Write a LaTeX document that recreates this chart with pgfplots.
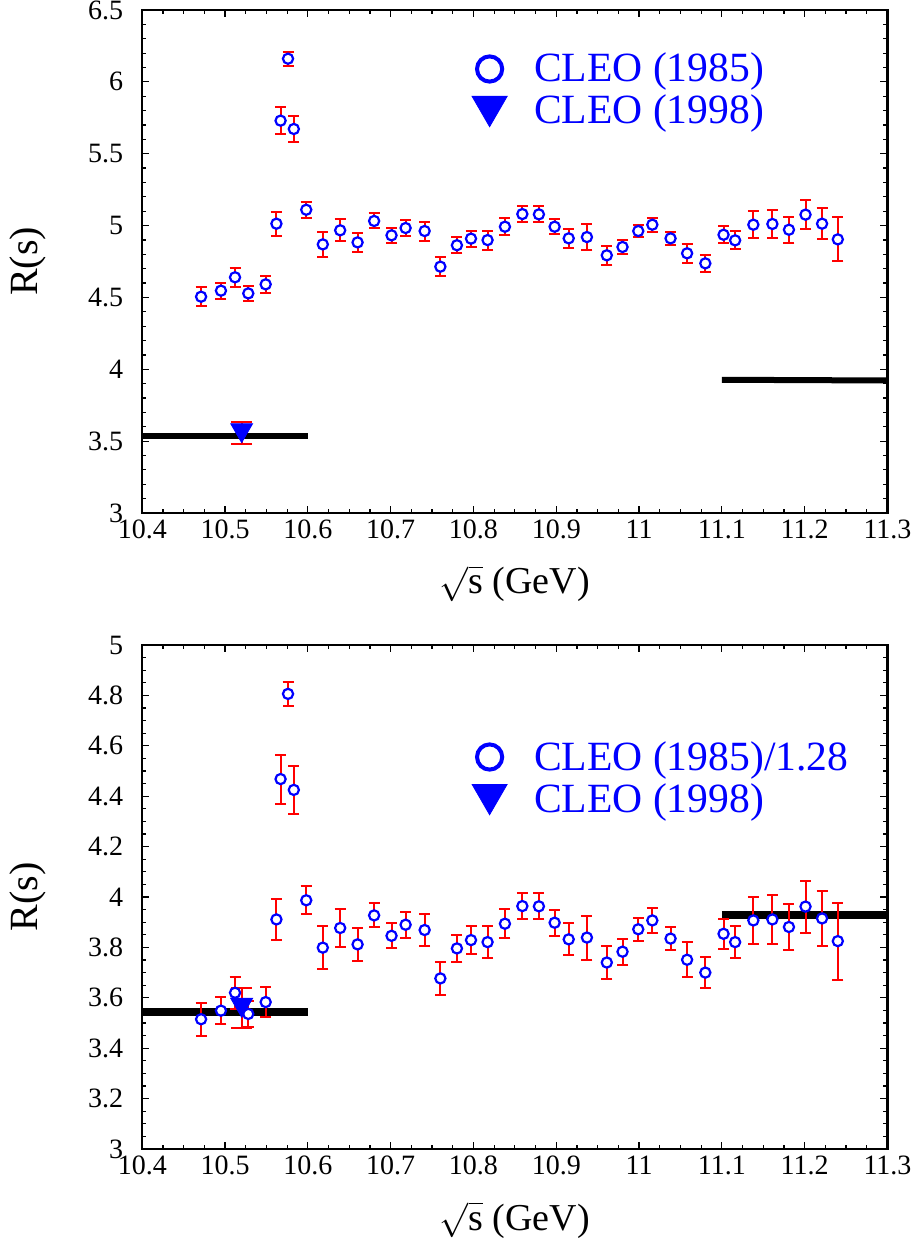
\documentclass[border=0pt]{standalone}
\usepackage{fontspec}
\setmainfont{Liberation Serif}
\usepackage{pgfplots}
\usepackage{pgfplotstable}
\pgfplotsset{compat=1.18}

% CLEO (1985) R values, raw
\pgfplotstableread{
E      R      dR
10.471 4.505 0.065
10.495 4.547 0.056
10.512 4.640 0.064
10.528 4.528 0.051
10.549 4.591 0.061
10.562 5.013 0.083
10.567 5.730 0.095
10.576 6.161 0.048
10.583 5.672 0.093
10.598 5.110 0.056
10.618 4.869 0.085
10.639 4.967 0.077
10.660 4.883 0.066
10.680 5.032 0.052
10.701 4.932 0.050
10.718 4.983 0.055
10.741 4.962 0.066
10.760 4.714 0.064
10.780 4.863 0.054
10.797 4.909 0.056
10.817 4.899 0.066
10.838 4.992 0.058
10.859 5.080 0.055
10.879 5.078 0.055
10.898 4.992 0.053
10.915 4.911 0.064
10.937 4.920 0.088
10.961 4.793 0.064
10.980 4.851 0.051
10.999 4.962 0.045
11.016 5.006 0.050
11.038 4.911 0.047
11.058 4.807 0.068
11.080 4.737 0.060
11.102 4.936 0.059
11.116 4.897 0.063
11.138 5.006 0.092
11.161 5.011 0.097
11.181 4.971 0.090
11.201 5.076 0.103
11.221 5.013 0.109
11.240 4.904 0.153
}\topdata

% CLEO (1985) divided by 1.28
\pgfplotstableread{
E      R      dR
10.471 3.515 0.066
10.495 3.549 0.054
10.512 3.620 0.063
10.528 3.536 0.052
10.549 3.583 0.061
10.562 3.911 0.083
10.567 4.468 0.097
10.576 4.806 0.048
10.583 4.425 0.095
10.598 3.987 0.055
10.618 3.799 0.086
10.639 3.877 0.077
10.660 3.812 0.065
10.680 3.927 0.048
10.701 3.846 0.050
10.718 3.890 0.052
10.741 3.869 0.065
10.760 3.677 0.064
10.780 3.796 0.054
10.797 3.829 0.056
10.817 3.821 0.064
10.838 3.894 0.058
10.859 3.964 0.053
10.879 3.963 0.052
10.898 3.898 0.052
10.915 3.832 0.064
10.937 3.839 0.087
10.961 3.740 0.064
10.980 3.783 0.052
10.999 3.872 0.046
11.016 3.907 0.050
11.038 3.835 0.046
11.058 3.751 0.069
11.080 3.700 0.061
11.102 3.854 0.060
11.116 3.821 0.063
11.138 3.907 0.092
11.161 3.911 0.097
11.181 3.881 0.091
11.201 3.962 0.103
11.221 3.915 0.108
11.240 3.825 0.153
}\botdata

\pgfplotsset{
  cleo/.style={
    scale only axis, width=372.6pt,
    xmin=10.4, xmax=11.3,
    xtick={10.4,10.5,10.6,10.7,10.8,10.9,11,11.1,11.2,11.3},
    minor x tick num=3,
    tick align=inside,
    major tick length=3.6pt, minor tick length=2pt,
    axis line style={line width=1.1pt},
    every tick/.append style={black, line width=0.6pt},
    tick label style={font=\fontsize{14}{16}\selectfont},
    /pgf/number format/assume math mode=true,
    yticklabel style={xshift=-6pt},
    xlabel={\smash{$\sqrt{\mbox{s}}$} (GeV)},
    ylabel={R(s)},
    xlabel style={font=\fontsize{19}{22}\selectfont,
      at={(axis description cs:0.5,-0.161)}, anchor=base},
    ylabel style={font=\fontsize{20}{22}\selectfont,
      at={(axis description cs:-0.1534,0.5)}, anchor=center},
    legend style={draw=none, fill=none, anchor=north west, inner sep=0pt, outer sep=0pt,
      column sep=13.5pt, row sep=0pt, text=blue,
      font=\fontsize{20.8}{21}\selectfont,
      nodes={inner sep=0pt, text height=15pt, text depth=6pt},
      cells={anchor=base west}},
    legend image code/.code={\draw[##1] plot coordinates {(0pt,6.5pt)};},
  },
  errbars/.style={only marks, mark=none, red, forget plot,
    error bars/.cd, y dir=both, y explicit,
    error bar style={red, line width=1pt},
    error mark options={rotate=90, red, line width=1pt, mark size=2.75pt}},
  pts/.style={only marks, mark=*, mark size=2.55pt, forget plot,
    mark options={draw=blue, fill=white, line width=1.1pt}},
  tri/.style={only marks, mark=triangle*, mark size=6.3pt, blue, forget plot,
    mark options={yshift=1.6pt, rotate=180}},
  trierr/.style={only marks, mark=none, red, forget plot,
    error bars/.cd, y dir=both, y explicit,
    error bar style={red, line width=1pt},
    error mark options={rotate=90, red, line width=1pt, mark size=5.25pt}},
  band/.style={black, line width=3pt, forget plot, no marks},
  legcirc/.style={only marks, mark=o, mark size=6.3pt, blue, mark options={line width=2pt}},
  legtri/.style={only marks, mark=triangle*, mark size=10.1pt, blue, mark options={yshift=2.25pt, rotate=180}},
}

\begin{document}
\begin{tikzpicture}
\path[use as bounding box] (-71.15pt,-366pt) rectangle (388.35pt,256.5pt);

\begin{axis}[cleo, at={(0pt,0pt)}, anchor=south west,
    height=251.5pt, ymin=3, ymax=6.5,
    ytick={3,3.5,4,4.5,5,5.5,6,6.5}, minor y tick num=4,
    legend style={at={(axis description cs:0.4426,0.9165)}}]
\addlegendimage{legcirc}
\addlegendentry{CLEO (1985)}
\addlegendimage{legtri}
\addlegendentry{CLEO (1998)}
\addplot[band] coordinates {(10.4,3.537) (10.6,3.537)};
\addplot[band] coordinates {(11.1,3.927) (11.3,3.922)};
\addplot[errbars] table[x=E, y=R, y error=dR] {\topdata};
\addplot[pts] table[x=E, y=R] {\topdata};
\addplot[trierr] coordinates {(10.52,3.555) +- (0,0.076)};
\addplot[tri] coordinates {(10.52,3.555)};
\end{axis}

\begin{axis}[cleo, at={(0pt,-318pt)}, anchor=south west,
    height=252pt, ymin=3, ymax=5,
    ytick={3,3.2,3.4,3.6,3.8,4,4.2,4.4,4.6,4.8,5}, minor y tick num=3,
    legend style={at={(axis description cs:0.4426,0.8115)}}]
\addlegendimage{legcirc}
\addlegendentry{CLEO (1985)/1.28}
\addlegendimage{legtri}
\addlegendentry{CLEO (1998)}
\addplot[band, line width=3.9pt] coordinates {(10.4,3.544) (10.6,3.544)};
\addplot[band, line width=3.9pt] coordinates {(11.1,3.929) (11.3,3.929)};
\addplot[errbars] table[x=E, y=R, y error=dR] {\botdata};
\addplot[pts] table[x=E, y=R] {\botdata};
\addplot[trierr] coordinates {(10.52,3.56) +- (0,0.078)};
\addplot[tri] coordinates {(10.52,3.56)};
\end{axis}
\end{tikzpicture}
\end{document}
